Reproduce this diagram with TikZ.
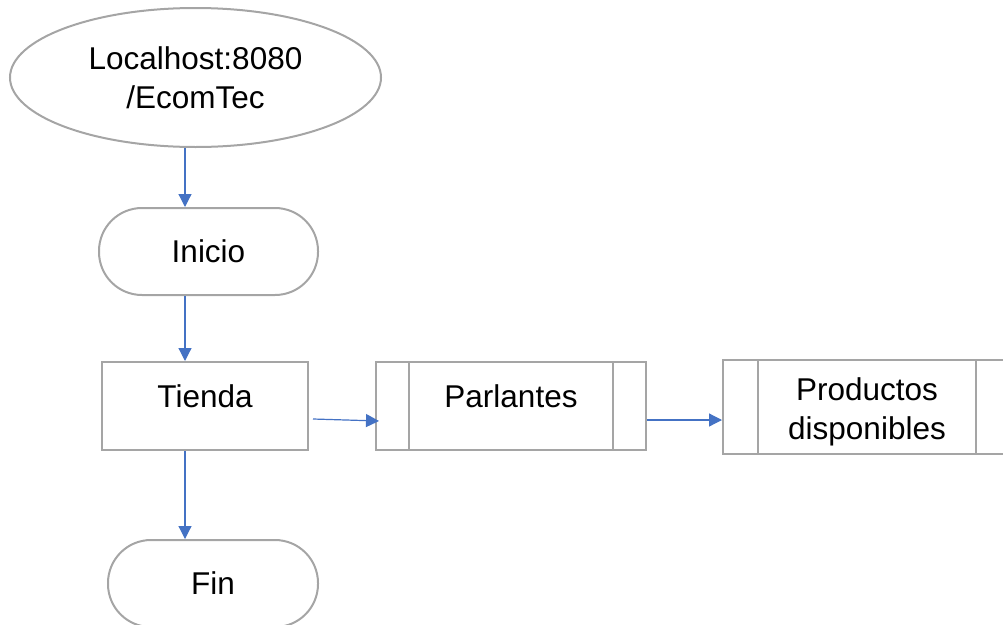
\documentclass[tikz,border=0pt]{standalone}
\usepackage{fontspec}
\setmainfont{Liberation Sans}
\usetikzlibrary{shapes.geometric, arrows.meta}

\definecolor{boxgray}{HTML}{A5A5A5}
\definecolor{arrowblue}{HTML}{4472C4}

\begin{document}
\begin{tikzpicture}[x=1pt, y=-1pt,
  box/.style={draw=boxgray, line width=2pt, inner sep=0pt, align=center,
    font=\fontsize{31.5}{39}\selectfont},
  arr/.style={draw=arrowblue, line width=1.2pt, -{Triangle[length=13pt, width=13pt]}}]%
  \useasboundingbox (0, 0) rectangle (1003, 624);
  % column of the vertical arrows
  \coordinate (col) at (185, 0);
  \node[box, ellipse, minimum width=371pt, minimum height=139pt] (url) at (195.5, 77.5)
    {Localhost:8080\\/EcomTec};
  \node[box, rounded corners=43pt, minimum width=219pt, minimum height=87pt] (inicio) at (208.5, 251.5)
    {Inicio};
  \node[box, minimum width=206pt, minimum height=88pt, text height=22pt, text depth=20pt] (tienda) at (205, 406)
    {Tienda};
  \node[box, rounded corners=43pt, minimum width=210pt, minimum height=87pt] (fin) at (213, 583.5)
    {Fin};
  \node[box, minimum width=270pt, minimum height=88pt, text height=22pt, text depth=20pt] (parl) at (511, 406)
    {Parlantes};
  \node[box, minimum width=288pt, minimum height=94pt, text height=70pt, text depth=5pt] (prod) at (867, 407)
    {Productos\\disponibles};
  \foreach \n/\d in {parl/34, prod/36} {
    \draw[draw=boxgray, line width=2pt] ([xshift=\d pt]\n.north west) -- ([xshift=\d pt]\n.south west);
    \draw[draw=boxgray, line width=2pt] ([xshift=-\d pt]\n.north east) -- ([xshift=-\d pt]\n.south east);
  }
  \draw[arr] (url.south -| col) -- (inicio.north -| col);
  \draw[arr] (inicio.south -| col) -- (tienda.north -| col);
  \draw[arr] (tienda.south -| col) -- (fin.north -| col);
  \draw[arr] ([shift={(4, 13)}]tienda.east) -- ([shift={(4, 15)}]parl.west);
  \draw[arr] ([shift={(0, 14)}]parl.east) -- ([shift={(0, 14)}]parl.east -| prod.west);
\end{tikzpicture}
\end{document}
